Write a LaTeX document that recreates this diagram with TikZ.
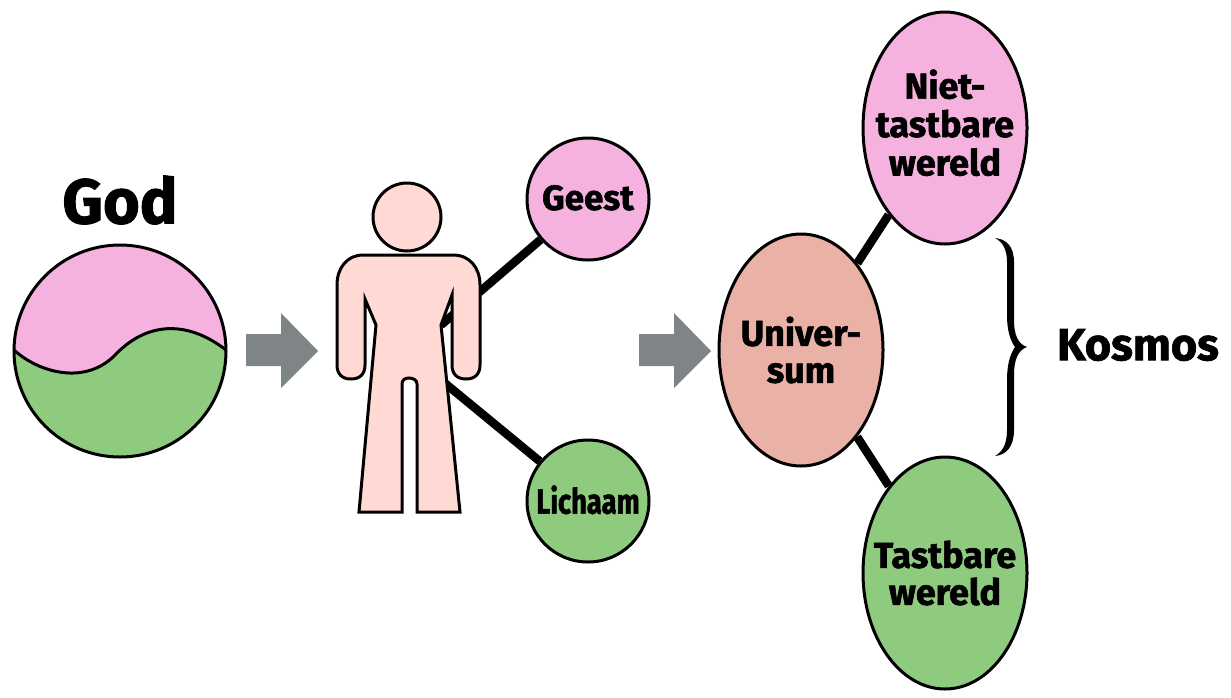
\documentclass[tikz,border=0pt]{standalone}
\usepackage{fontspec}
\setmainfont{Fira Sans}[BoldFeatures={FakeBold=1.6}]
\usetikzlibrary{shapes,positioning,backgrounds}
\definecolor{roze}{HTML}{F6B2DF}
\definecolor{groen}{HTML}{8FCB7F}
\definecolor{huid}{HTML}{FFD9D3}
\definecolor{zalm}{HTML}{EAB1A7}
\definecolor{grijs}{HTML}{7F8487}
\begin{document}
\begin{tikzpicture}[x=1pt,y=-1pt,
	bol/.style = {draw, circle, line width=3pt, minimum size=122pt, inner sep=0pt, align=center, font=\bfseries\fontsize{35}{36}\selectfont},
	ei/.style = {draw, ellipse, line width=3pt, minimum width=164pt, minimum height=232pt, inner sep=-30pt, align=center, font=\bfseries\fontsize{36}{37}\selectfont},
	lijn/.style = {line width=8.5pt},
	rand/.style = {line width=3pt, line join=miter},
	titel/.style = {font=\bfseries\fontsize{45}{46}\selectfont}]
	\useasboundingbox (0,0) rectangle (1231,697);
	\node[bol, fill=roze] (geest) at (588,199) {\raisebox{3pt}{Geest}};
	\node[bol, fill=groen] (lichaam) at (588,501) {\raisebox{3pt}{\scalebox{0.78}[1]{Lichaam}}};
	\node[ei, fill=roze] (niet) at (945,128) {\raisebox{12pt}{\begin{tabular}{@{}c@{}}Niet-\\tastbare\\wereld\end{tabular}}};
	\node[ei, fill=groen] (tast) at (945,573) {Tastbare\\wereld};
	\node[ei, fill=zalm] (univ) at (801,350) {Univer-\\sum};
	\coordinate (romp1) at (441,325);
	\coordinate (romp2) at (441,380);
	\begin{scope}[on background layer]
		\draw[lijn] (romp1) -- (geest);
		\draw[lijn] (romp2) -- (lichaam);
		\draw[lijn] (univ) -- (niet);
		\draw[lijn] (univ) -- (tast);
	\end{scope}
	% God
	\node[font=\bfseries\fontsize{63}{64}\selectfont] (god) at (120,200) {God};
	\fill[roze] (120,351) circle (106);
	\begin{scope}
		\clip (120,351) circle (106);
		\fill[groen] (14,350) .. controls (38,372) and (86,387) .. (117,353) .. controls (150,320) and (190,322) .. (226,350) -- (226,460) -- (14,460) -- cycle;
	\end{scope}
	\draw[rand] (120,351) circle (106);
	\draw[rand] (14,350) .. controls (38,372) and (86,387) .. (117,353) .. controls (150,320) and (190,322) .. (226,350);
	% pijlen
	\fill[grijs] (246,334) -- (281,334) -- (281,313) -- (318,351) -- (281,388) -- (281,366) -- (246,366) -- cycle;
	\fill[grijs] (639,334) -- (674,334) -- (674,313) -- (711,351) -- (674,388) -- (674,366) -- (639,366) -- cycle;
	% persoon
	\draw[rand, fill=huid] (407,217) circle (34);
	\draw[rand, fill=huid] (363,255) -- (453,255) .. controls (470,255) and (480,268) .. (480,285) -- (480,365) .. controls (480,374) and (475,379) .. (466,379) .. controls (457,379) and (452,374) .. (452,365) -- (452,295) -- (441,325) -- (460,512) -- (417,512) -- (417,384) .. controls (417,380) and (413,378) .. (409,378) .. controls (405,378) and (402,380) .. (402,384) -- (402,512) -- (359,512) -- (376,325) -- (365,299) -- (365,365) .. controls (365,374) and (360,379) .. (351,379) .. controls (342,379) and (337,374) .. (337,365) -- (337,285) .. controls (337,268) and (347,255) .. (363,255) -- cycle;
	% kosmos
	\fill (995,238) .. controls (1006,239) and (1014,246) .. (1014,262) -- (1014,320) .. controls (1014,335) and (1018,344) .. (1027,347) .. controls (1018,350) and (1014,360) .. (1014,375) -- (1014,430) .. controls (1014,447) and (1006,455) .. (995,456) .. controls (1002,452) and (1007,445) .. (1007,430) -- (1007,380) .. controls (1007,365) and (1010,354) .. (1015,347) .. controls (1010,340) and (1007,330) .. (1007,315) -- (1007,262) .. controls (1007,250) and (1003,242) .. (995,238) -- cycle;
	\node[titel] (kosmos) at (1138,345) {Kosmos};
\end{tikzpicture}
\end{document}
